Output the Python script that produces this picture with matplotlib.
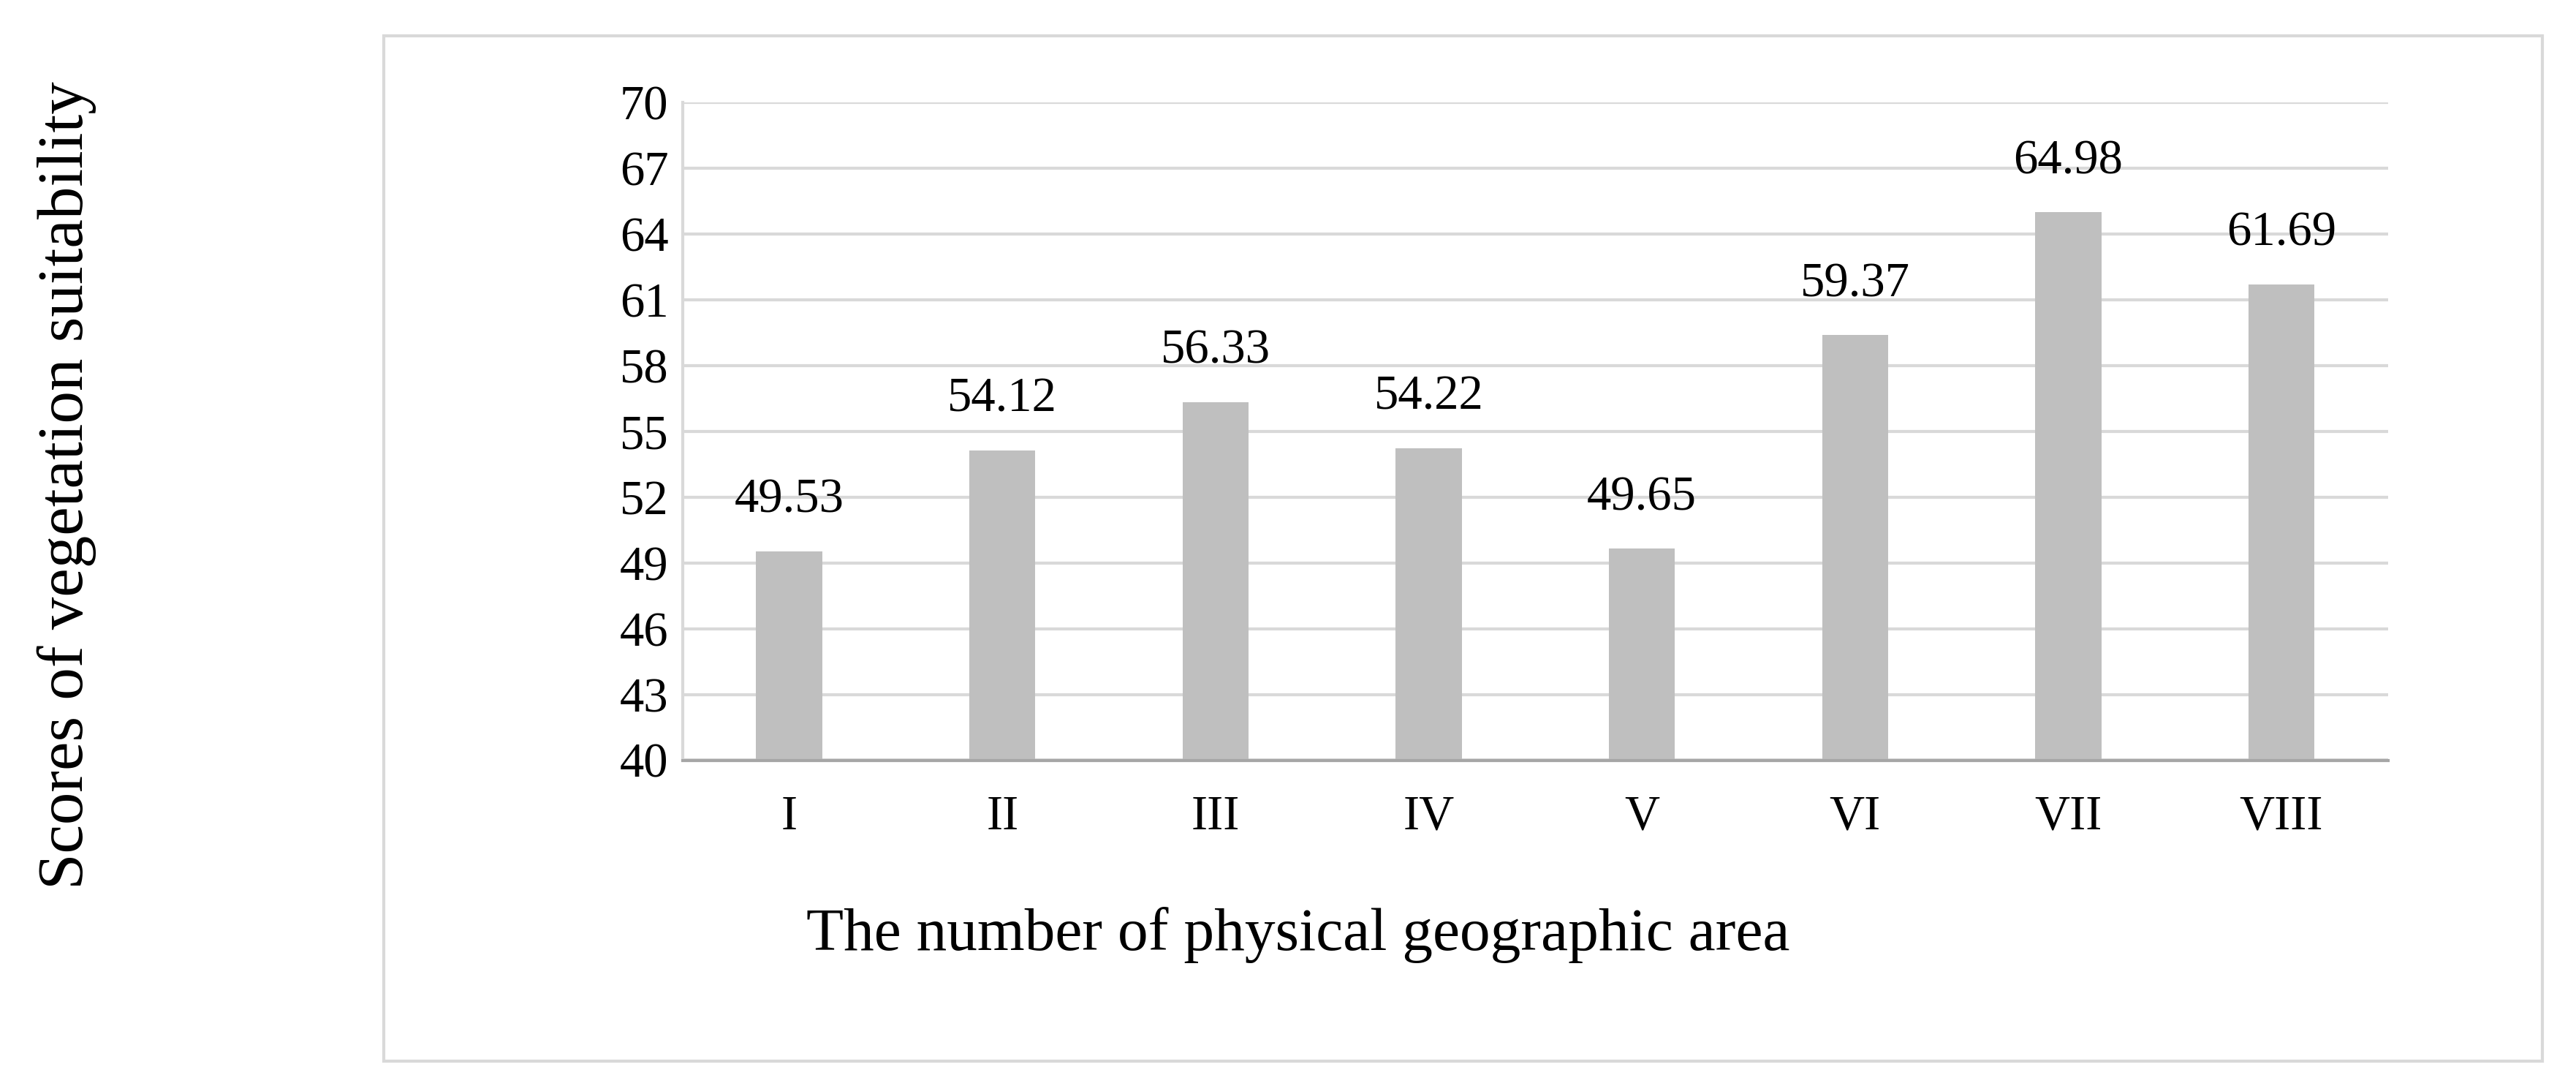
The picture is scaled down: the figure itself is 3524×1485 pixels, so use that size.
import matplotlib

matplotlib.use("Agg")
import matplotlib.pyplot as plt
from matplotlib.patches import Rectangle

areas = ["I", "II", "III", "IV", "V", "VI", "VII", "VIII"]
scores = [49.53, 54.12, 56.33, 54.22, 49.65, 59.37, 64.98, 61.69]
yticks = list(range(40, 71, 3))

plt.rcParams["font.family"] = ["Liberation Serif", "DejaVu Serif"]

fig = plt.figure(figsize=(35.24, 14.85), dpi=100)
fig.patches.append(Rectangle((0.149, 0.023), 0.838, 0.944, transform=fig.transFigure,
                             fill=False, edgecolor="#d9d9d9", linewidth=3))
ax = fig.add_axes([0.265, 0.30, 0.662, 0.606])

x = range(len(areas))
ax.bar(x, scores, width=0.31, color="#bfbfbf", zorder=2)
for xi, v in zip(x, scores):
    ax.text(xi, v + 1.3, f"{v:.2f}", ha="center", va="bottom", fontsize=48)

ax.set_ylim(40, 70)
ax.set_xlim(-0.5, len(areas) - 0.5)
ax.set_yticks(yticks)
ax.set_xticks(list(x))
ax.set_xticklabels(areas)
ax.tick_params(axis="both", length=0, labelsize=48)
ax.tick_params(axis="x", pad=34)
ax.tick_params(axis="y", pad=14)
ax.grid(axis="y", color="#d9d9d9", linewidth=3, zorder=0)
for s in ["top", "right"]:
    ax.spines[s].set_visible(False)
ax.spines["left"].set_color("#d9d9d9")
ax.spines["left"].set_linewidth(3)
ax.spines["bottom"].set_color("#a6a6a6")
ax.spines["bottom"].set_linewidth(3)

fig.text(0.504, 0.139, "The number of physical geographic area", ha="center", va="center", fontsize=60)
fig.text(0.026, 0.553, "Scores of vegetation suitability", ha="center", va="center",
         rotation=90, fontsize=64)

fig.savefig("out.png", dpi=100)
